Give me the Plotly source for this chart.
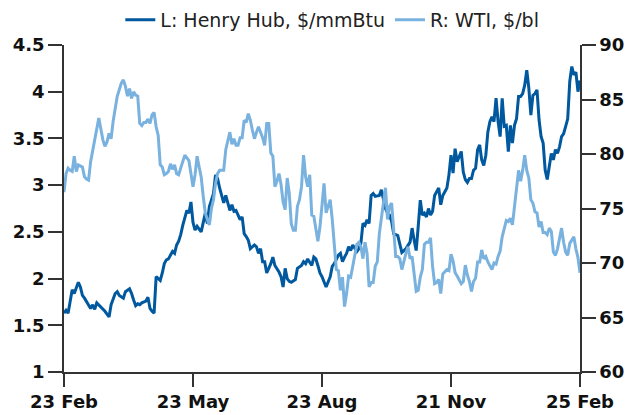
import plotly.graph_objects as go

# Trading-day index (0 = 23 Feb 2024, 252 = 25 Feb 2025)
tick_days = [0, 63, 126, 189, 252]
tick_labels = ["23 Feb", "23 May", "23 Aug", "21 Nov", "25 Feb"]

hh_days = [0, 1, 2, 4, 5, 6, 7, 8, 9, 10, 12, 13, 14, 15, 16, 17, 19, 20, 21, 22, 23, 24, 25, 26, 27, 29, 30,
           32, 33, 34, 35, 36, 37, 38, 40, 41, 42, 43, 44, 45, 47, 48, 49, 50, 51, 53, 54, 55, 56, 57, 58, 60,
           61, 62, 63, 64, 65, 67, 68, 69, 70, 71, 72, 73, 74, 75, 76, 77, 78, 79, 81, 82, 83, 84, 86, 87, 88,
           89, 90, 91, 93, 94, 95, 96, 97, 98, 99, 100, 101, 102, 103, 105, 106, 107, 108, 109, 110, 111, 113,
           114, 115, 116, 117, 118, 119, 121, 122, 123, 124, 125, 126, 127, 128, 130, 131, 132, 133, 134, 135,
           136, 137, 138, 139, 140, 141, 143, 144, 145, 146, 147, 148, 149, 150, 151, 152, 154, 155, 156, 157,
           158, 159, 160, 161, 163, 164, 165, 166, 167, 169, 170, 171, 172, 173, 174, 175, 176, 177, 178, 179,
           180, 181, 182, 183, 184, 185, 187, 188, 189, 190, 191, 192, 194, 195, 196, 197, 198, 199, 200, 201,
           202, 203, 204, 205, 206, 207, 208, 209, 210, 211, 212, 213, 214, 215, 216, 217, 218, 219, 220, 221,
           222, 223, 224, 225, 226, 227, 228, 229, 230, 231, 232, 233, 234, 235, 236, 237, 238, 239, 240, 241,
           242, 243, 244, 245, 246, 247, 248, 249, 250, 251, 252]
hh_vals = [1.63, 1.66, 1.63, 1.88, 1.84, 1.91, 1.96, 1.91, 1.82, 1.79, 1.72, 1.68, 1.72, 1.67, 1.74, 1.72, 1.68,
           1.65, 1.62, 1.59, 1.72, 1.77, 1.84, 1.86, 1.82, 1.79, 1.86, 1.89, 1.84, 1.77, 1.71, 1.73, 1.72, 1.74,
           1.76, 1.80, 1.68, 1.65, 1.63, 2.02, 1.98, 2.06, 2.16, 2.20, 2.21, 2.29, 2.27, 2.36, 2.40, 2.47, 2.57,
           2.73, 2.70, 2.82, 2.60, 2.52, 2.56, 2.50, 2.59, 2.70, 2.59, 2.77, 2.84, 2.91, 3.11, 3.07, 2.97, 2.89,
           2.81, 2.89, 2.73, 2.79, 2.72, 2.73, 2.63, 2.66, 2.48, 2.45, 2.41, 2.32, 2.36, 2.34, 2.27, 2.32, 2.18,
           2.18, 2.06, 2.11, 2.16, 2.23, 2.14, 2.07, 2.02, 1.91, 2.11, 2.00, 1.97, 1.96, 1.99, 2.11, 2.13, 2.14,
           2.18, 2.16, 2.21, 2.14, 2.23, 2.21, 2.14, 2.06, 2.02, 1.97, 1.91, 2.02, 2.13, 2.16, 2.20, 2.25, 2.27,
           2.18, 2.23, 2.27, 2.34, 2.30, 2.36, 2.29, 2.32, 2.38, 2.59, 2.57, 2.63, 2.59, 2.89, 2.91, 2.88, 2.89,
           2.95, 2.84, 2.75, 2.70, 2.68, 2.61, 2.48, 2.46, 2.36, 2.28, 2.30, 2.32, 2.39, 2.54, 2.41, 2.30, 2.56,
           2.84, 2.68, 2.70, 2.66, 2.75, 2.68, 2.72, 2.89, 2.93, 2.97, 2.79, 2.89, 2.97, 3.11, 3.32, 3.13, 3.39,
           3.25, 3.36, 3.14, 3.06, 3.03, 3.07, 3.07, 3.16, 3.18, 3.38, 3.43, 3.27, 3.21, 3.32, 3.57, 3.68, 3.73,
           3.68, 3.93, 3.68, 3.52, 3.93, 3.63, 3.64, 3.36, 3.64, 3.45, 3.64, 3.71, 3.95, 3.95, 3.98, 4.07, 4.23,
           4.04, 3.75, 3.96, 3.98, 4.02, 3.70, 3.52, 3.45, 3.16, 3.06, 3.21, 3.34, 3.27, 3.38, 3.34, 3.41, 3.52,
           3.55, 3.63, 3.71, 4.11, 4.27, 4.18, 4.21, 4.00, 4.12]

wti_days = [0, 1, 2, 3, 4, 5, 6, 7, 9, 10, 11, 12, 13, 14, 15, 16, 17, 18, 19, 20, 21, 22, 23, 24, 25, 26, 27,
            28, 29, 30, 31, 32, 33, 34, 35, 36, 37, 38, 39, 40, 41, 42, 43, 44, 45, 46, 47, 48, 49, 50, 51, 52,
            53, 54, 55, 56, 57, 58, 59, 61, 62, 63, 64, 65, 66, 67, 68, 69, 70, 71, 72, 73, 74, 75, 76, 78, 79,
            80, 81, 82, 83, 84, 85, 86, 87, 88, 89, 90, 91, 92, 93, 94, 95, 96, 97, 98, 99, 100, 101, 102, 103,
            104, 105, 106, 107, 108, 109, 110, 111, 112, 113, 114, 115, 116, 117, 118, 119, 120, 121, 122, 124,
            125, 126, 127, 128, 130, 131, 132, 133, 134, 135, 136, 137, 138, 139, 140, 141, 142, 143, 144, 145,
            146, 147, 148, 149, 150, 151, 152, 153, 154, 155, 156, 157, 158, 159, 160, 161, 162, 163, 164, 165,
            166, 167, 168, 169, 170, 171, 172, 173, 174, 175, 176, 177, 178, 179, 180, 181, 182, 183, 184, 185,
            187, 188, 189, 190, 191, 192, 194, 195, 196, 197, 198, 199, 200, 201, 202, 203, 204, 205, 206, 207,
            208, 209, 210, 211, 212, 213, 214, 215, 216, 217, 218, 219, 220, 221, 222, 223, 224, 225, 226, 227,
            228, 229, 230, 231, 232, 233, 234, 235, 236, 237, 238, 239, 240, 241, 242, 243, 244, 245, 246, 247,
            248, 249, 250, 251, 252]
wti_vals = [76.5, 78.2, 78.7, 78.5, 78.4, 79.8, 78.4, 79.0, 78.8, 77.9, 77.7, 77.6, 79.3, 80.4, 81.1, 82.4, 83.3,
            82.3, 81.3, 80.7, 81.1, 81.9, 81.4, 83.0, 84.2, 85.3, 85.9, 86.5, 86.8, 86.2, 85.3, 86.0, 85.1, 85.7,
            85.4, 85.3, 82.8, 82.6, 82.9, 82.9, 83.2, 82.8, 83.6, 83.8, 82.5, 81.7, 79.0, 78.8, 78.1, 78.2, 78.4,
            79.1, 78.6, 79.0, 78.2, 78.1, 78.7, 79.3, 79.9, 79.4, 78.2, 77.0, 78.1, 79.8, 78.8, 77.9, 76.1, 74.6,
            74.0, 73.5, 75.0, 75.8, 77.3, 78.2, 78.5, 78.5, 80.4, 81.3, 82.0, 80.9, 81.4, 80.8, 80.8, 81.5, 81.5,
            83.1, 82.9, 83.7, 83.1, 82.2, 81.4, 82.0, 82.5, 82.0, 81.5, 80.8, 82.8, 82.8, 80.1, 79.8, 77.0, 77.5,
            78.2, 77.2, 75.6, 74.9, 77.8, 76.4, 73.6, 73.0, 73.0, 75.2, 75.8, 77.0, 79.9, 77.9, 77.0, 78.1, 74.4,
            74.3, 72.0, 73.3, 75.5, 77.3, 74.6, 75.8, 74.0, 71.5, 69.4, 69.3, 67.5, 68.7, 66.0, 67.2, 68.8, 68.7,
            69.7, 70.9, 71.7, 71.9, 71.5, 70.4, 71.9, 70.9, 67.8, 68.2, 68.2, 69.7, 70.1, 72.7, 74.0, 75.2, 76.9,
            74.0, 75.2, 75.5, 73.3, 70.6, 70.6, 70.4, 69.4, 70.3, 70.9, 71.5, 70.4, 70.6, 68.7, 67.4, 67.5, 68.7,
            69.4, 71.7, 71.9, 71.9, 72.3, 69.7, 68.1, 68.2, 68.5, 67.2, 69.0, 69.4, 69.3, 70.8, 70.2, 69.1, 68.8,
            68.1, 68.3, 69.8, 68.9, 68.3, 67.4, 68.3, 68.6, 70.1, 70.1, 71.2, 70.4, 70.6, 70.1, 69.7, 69.4, 70.0,
            69.9, 70.6, 71.1, 72.4, 73.2, 73.9, 73.8, 74.1, 73.5, 75.0, 76.9, 78.5, 77.5, 78.5, 79.9, 78.5, 77.8,
            75.8, 75.5, 74.7, 74.6, 73.3, 73.8, 72.8, 72.8, 72.6, 73.2, 72.9, 71.0, 70.7, 71.3, 72.4, 73.2, 71.9,
            71.0, 70.7, 71.8, 72.1, 72.4, 71.3, 70.5, 69.1]

left_ticks = [1, 1.5, 2, 2.5, 3, 3.5, 4, 4.5]
right_ticks = [60, 65, 70, 75, 80, 85, 90]

DARK = "#00589F"
LIGHT = "#79B2DF"
AX = "#333333"
FONT = "DejaVu Sans"

fig = go.Figure()
fig.add_trace(go.Scatter(x=wti_days, y=wti_vals, mode="lines", name="R: WTI, $/bl",
                         line=dict(color=LIGHT, width=3), yaxis="y2"))
fig.add_trace(go.Scatter(x=hh_days, y=hh_vals, mode="lines", name="L: Henry Hub, $/mmBtu",
                         line=dict(color=DARK, width=3), yaxis="y"))

tickfont = dict(family=FONT, size=18, color="#111111", weight="bold")

# The page body has an 8px default margin, so the figure is sized to fit the window.
fig.update_layout(
    width=629, height=407,
    margin=dict(l=56, r=57, t=37, b=43, autoexpand=False),
    paper_bgcolor="white", plot_bgcolor="white",
    showlegend=True,
    legend=dict(orientation="h", x=0.52, xanchor="center", y=1.077, yanchor="middle",
                font=dict(family=FONT, size=19, color="#222222"), traceorder="reversed",
                itemwidth=30, bgcolor="rgba(0,0,0,0)"),
    xaxis=dict(range=[0, 252], tickmode="array", tickvals=tick_days, ticktext=tick_labels,
               showline=True, linecolor=AX, linewidth=1.5, ticks="outside", ticklen=13,
               tickwidth=1.5, tickcolor=AX, showgrid=False, zeroline=False, tickfont=tickfont,
               automargin=False),
    yaxis=dict(range=[1, 4.5], tickmode="array", tickvals=left_ticks,
               ticktext=[f"{v:g}" for v in left_ticks],
               showline=True, linecolor=AX, linewidth=1.5, ticks="outside", ticklen=14,
               tickwidth=1.5, tickcolor=AX, showgrid=False, zeroline=False, tickfont=tickfont,
               automargin=False),
    yaxis2=dict(range=[60, 90], tickmode="array", tickvals=right_ticks,
                overlaying="y", side="right",
                showline=True, linecolor=AX, linewidth=1.5, ticks="outside", ticklen=14,
                tickwidth=1.5, tickcolor=AX, showgrid=False, zeroline=False, tickfont=tickfont,
                automargin=False),
)

fig.write_html("out.html")
